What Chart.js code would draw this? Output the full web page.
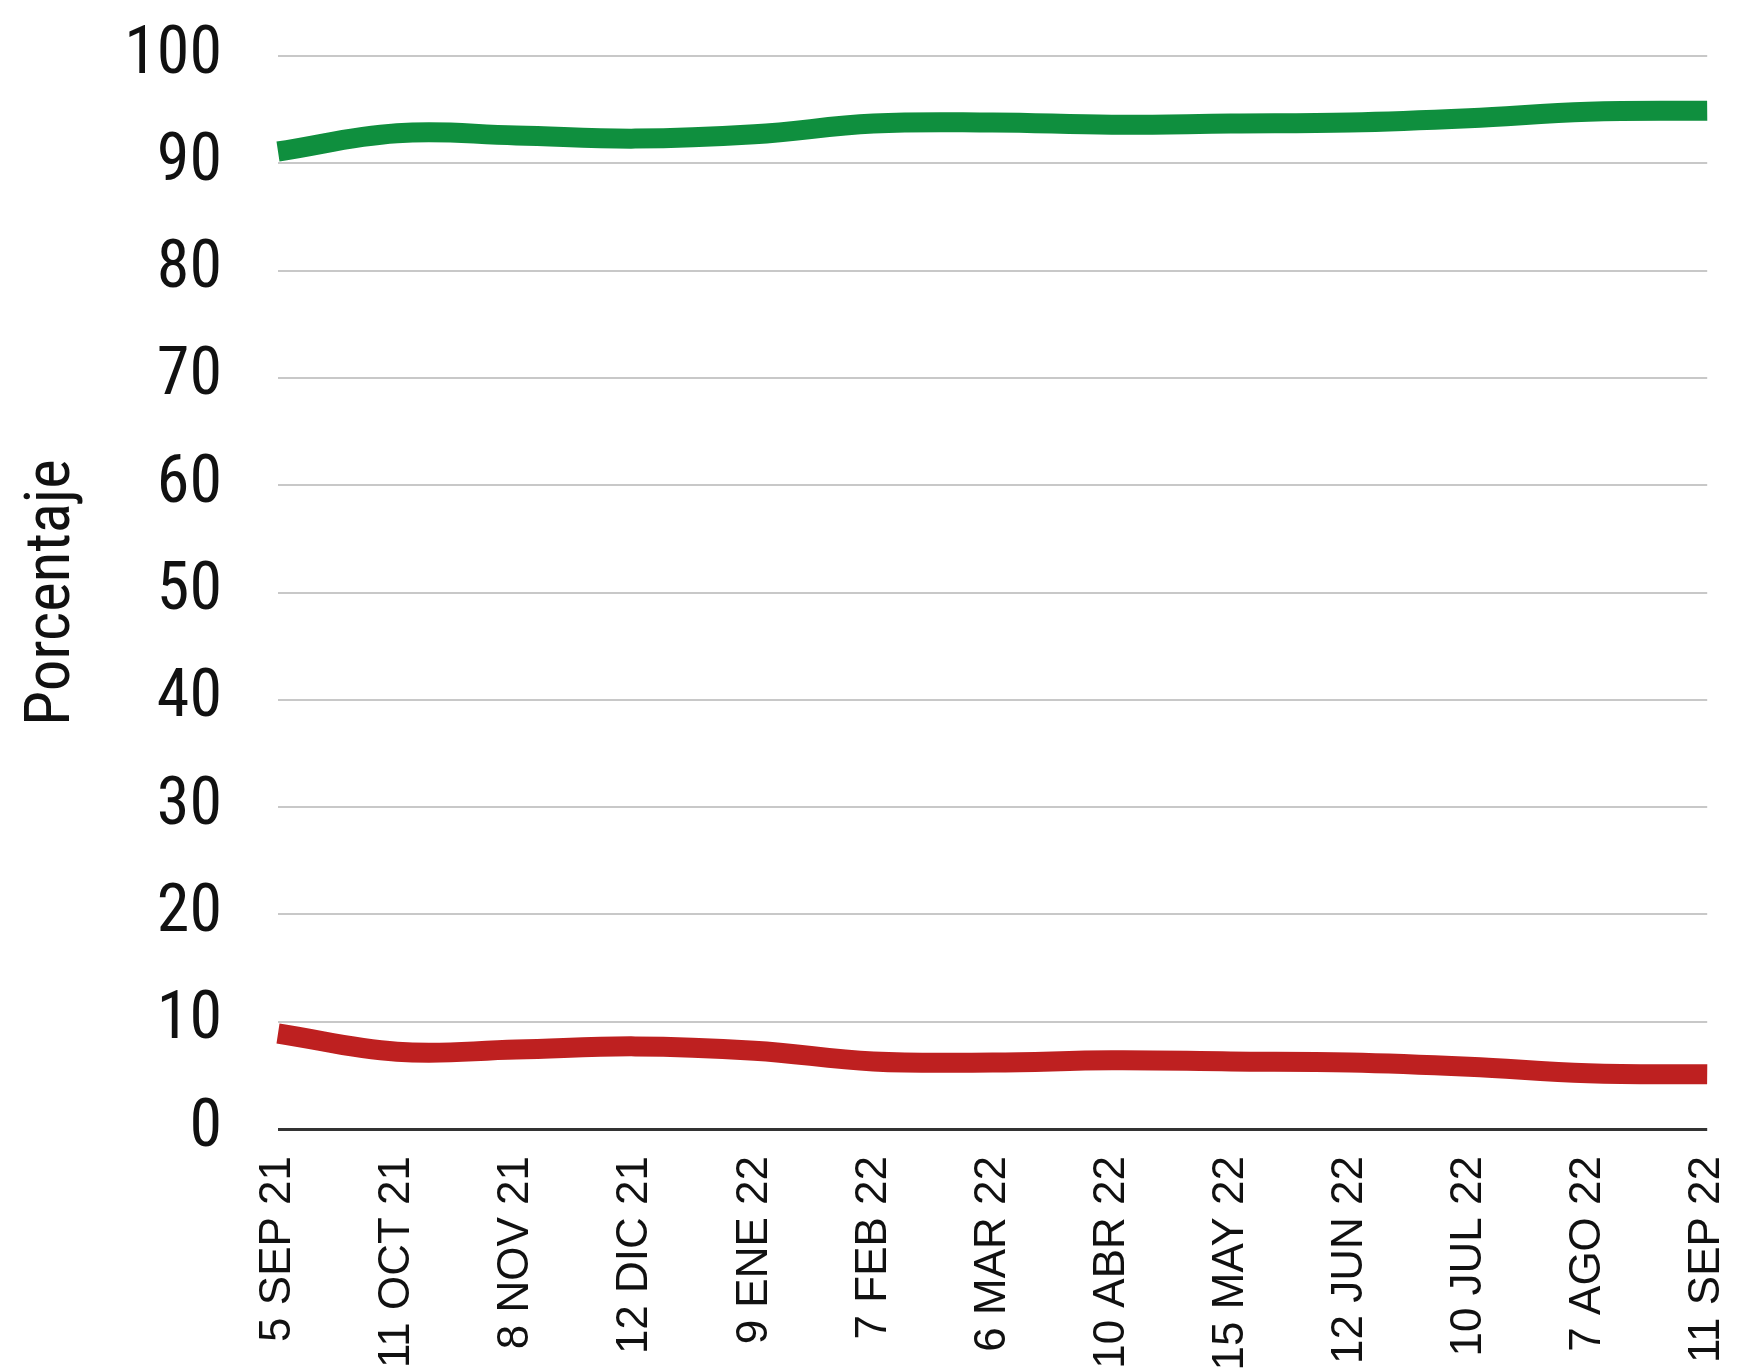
<!DOCTYPE html>
<html>
<head>
<meta charset="utf-8">
<script src="https://cdn.jsdelivr.net/npm/chart.js@4/dist/chart.umd.min.js"></script>
<style>
  html, body { margin: 0; padding: 0; background: #ffffff; overflow: hidden; }
  #wrap { position: relative; width: 1760px; height: 1369px; }
</style>
</head>
<body>
<div id="wrap"><canvas id="c" width="1760" height="1369"></canvas></div>
<script>
const categories = ['5 SEP 21', '11 OCT 21', '8 NOV 21', '12 DIC 21', '9 ENE 22', '7 FEB 22', '6 MAR 22', '10 ABR 22', '15 MAY 22', '12 JUN 22', '10 JUL 22', '7 AGO 22', '11 SEP 22'];
const greenValues = [91.1, 92.8, 92.6, 92.3, 92.7, 93.7, 93.8, 93.6, 93.7, 93.8, 94.2, 94.8, 94.9];
const redValues = [8.9, 7.2, 7.4, 7.7, 7.3, 6.3, 6.2, 6.4, 6.3, 6.2, 5.8, 5.2, 5.1];
const yTicks = [0, 10, 20, 30, 40, 50, 60, 70, 80, 90, 100];
const yTitle = 'Porcentaje';

const condensed = "'Roboto Condensed', 'DejaVu Sans Condensed', sans-serif";
const clear = 'rgba(0,0,0,0)';

new Chart(document.getElementById('c'), {
  type: 'line',
  data: {
    labels: categories,
    datasets: [
      { data: greenValues, borderColor: '#0f8f3e', borderWidth: 20, tension: 0.4, pointRadius: 0, fill: false, borderCapStyle: 'butt' },
      { data: redValues, borderColor: '#be2020', borderWidth: 20, tension: 0.4, pointRadius: 0, fill: false, borderCapStyle: 'butt' }
    ]
  },
  options: {
    responsive: false,
    animation: false,
    events: [],
    layout: { padding: { top: 56, right: 48, bottom: 0, left: 0 } },
    plugins: { legend: { display: false }, tooltip: { enabled: false } },
    scales: {
      x: {
        type: 'category',
        offset: false,
        grid: { display: true, color: clear, drawTicks: true, tickLength: 27, tickColor: clear },
        border: { display: false },
        ticks: {
          autoSkip: false,
          maxRotation: 90,
          minRotation: 90,
          padding: 0,
          color: '#111',
          font: { family: "'Liberation Sans', Arial, sans-serif", size: 44 }
        },
        afterFit: (scale) => { scale.height = 240; }
      },
      y: {
        min: 0,
        max: 100,
        afterBuildTicks: (scale) => { scale.ticks = yTicks.map(v => ({ value: v })); },
        grid: {
          drawTicks: true,
          tickLength: 56,
          tickColor: clear,
          color: (ctx) => ctx.tick && ctx.tick.value === 0 ? '#333333' : '#c8c8c8',
          lineWidth: (ctx) => ctx.tick && ctx.tick.value === 0 ? 3 : 2
        },
        border: { display: false },
        ticks: {
          padding: 0,
          color: '#111',
          font: { family: condensed, size: 66, lineHeight: 1 }
        },
        title: {
          display: true,
          text: yTitle,
          color: '#111',
          padding: { top: 22, bottom: 0 },
          font: { family: condensed, size: 63, lineHeight: 1 }
        },
        afterFit: (scale) => { scale.width = 278; }
      }
    }
  }
});
</script>
</body>
</html>
